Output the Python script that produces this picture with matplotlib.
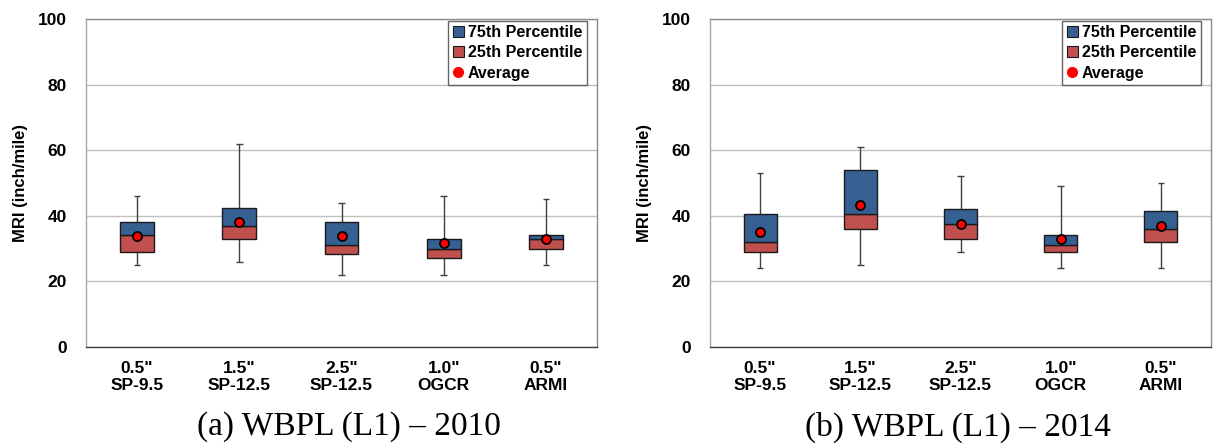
import matplotlib
matplotlib.use("Agg")
import matplotlib.pyplot as plt
from matplotlib.patches import Patch
from matplotlib.lines import Line2D

categories = ['0.5"\nSP-9.5', '1.5"\nSP-12.5', '2.5"\nSP-12.5', '1.0"\nOGCR', '0.5"\nARMI']

# Panel (a) 2010
min_2010 = [25, 26, 22, 22, 25]
q1_2010 = [29, 33, 28.3, 27, 30]
med_2010 = [34, 37, 31, 30, 33]
q3_2010 = [38, 42.5, 38, 33, 34]
max_2010 = [46, 62, 44, 46, 45]
avg_2010 = [33.8, 38.2, 33.8, 31.6, 33.0]

# Panel (b) 2014
min_2014 = [24, 25, 29, 24, 24]
q1_2014 = [29, 36, 33, 29, 32]
med_2014 = [32, 40.5, 37.5, 31, 36]
q3_2014 = [40.5, 54, 42, 34, 41.5]
max_2014 = [53, 61, 52, 49, 50]
avg_2014 = [35.0, 43.4, 37.5, 32.8, 37.0]

captions = ["(a) WBPL (L1) \u2013 2010", "(b) WBPL (L1) \u2013 2014"]
legend_labels = ["75th Percentile", "25th Percentile", "Average"]
ylabel = "MRI (inch/mile)"
yticks = [0, 20, 40, 60, 80, 100]

BLUE = "#376092"
RED = "#C0504D"
SANS = ["Liberation Sans", "DejaVu Sans"]
SERIF = ["Liberation Serif", "DejaVu Serif"]

W, H = 1214, 447
fig = plt.figure(figsize=(W / 100, H / 100), dpi=100)

panels = [
    dict(rect=[86, 19, 597, 347], data=(min_2010, q1_2010, med_2010, q3_2010, max_2010, avg_2010),
         cap_x=349),
    dict(rect=[710, 19, 1211, 347], data=(min_2014, q1_2014, med_2014, q3_2014, max_2014, avg_2014),
         cap_x=958),
]

for i, p in enumerate(panels):
    x0, y0, x1, y1 = p["rect"]
    ax = fig.add_axes([x0 / W, 1 - y1 / H, (x1 - x0) / W, (y1 - y0) / H])
    mn, q1, md, q3, mx, av = p["data"]
    xs = list(range(len(categories)))
    ax.set_xlim(-0.5, len(categories) - 0.5)
    ax.set_ylim(0, 100)
    ax.set_yticks(yticks)
    ax.yaxis.grid(True, color="#C0C0C0", linewidth=1.0)
    ax.set_axisbelow(True)

    bw = 0.33
    cw = 0.065
    # whiskers
    ax.vlines(xs, q3, mx, color="#404040", linewidth=1.0, zorder=2)
    ax.vlines(xs, mn, q1, color="#404040", linewidth=1.0, zorder=2)
    ax.hlines(mx, [x - cw / 2 for x in xs], [x + cw / 2 for x in xs], color="#404040", linewidth=1.0, zorder=2)
    ax.hlines(mn, [x - cw / 2 for x in xs], [x + cw / 2 for x in xs], color="#404040", linewidth=1.0, zorder=2)
    # boxes
    ax.bar(xs, [m - a for m, a in zip(md, q1)], bottom=q1, width=bw, color=RED,
           edgecolor="#1a1a1a", linewidth=1.0, zorder=3)
    ax.bar(xs, [b - m for b, m in zip(q3, md)], bottom=md, width=bw, color=BLUE,
           edgecolor="#1a1a1a", linewidth=1.0, zorder=3)
    ax.plot(xs, av, linestyle="none", marker="o", ms=6.5, mfc="#FF0000", mec="black",
            mew=1.3, zorder=4)

    ax.set_xticks(xs)
    ax.set_xticklabels(categories, fontsize=12.5, fontweight="bold", family=SANS, linespacing=1.2)
    ax.set_yticklabels([str(t) for t in yticks], fontsize=12.5, fontweight="bold", family=SANS)
    ax.tick_params(axis="both", length=0)
    ax.tick_params(axis="y", pad=14)
    ax.tick_params(axis="x", pad=10)

    ax.set_ylabel(ylabel, fontsize=12, fontweight="bold", family=SANS)
    ax.yaxis.set_label_coords(-(65) / (x1 - x0), 0.5)
    ax.yaxis.label.set_verticalalignment("center")

    ax.spines["left"].set_color("#A6A6A6")
    ax.spines["bottom"].set_color("#404040")
    ax.spines["top"].set_color("#8C8C8C")
    ax.spines["right"].set_color("#8C8C8C")
    for s in ax.spines.values():
        s.set_linewidth(1.0)

    handles = [
        Patch(facecolor=BLUE, edgecolor="#1a1a1a", linewidth=0.8),
        Patch(facecolor=RED, edgecolor="#1a1a1a", linewidth=0.8),
        Line2D([], [], linestyle="none", marker="o", ms=7, mfc="#FF0000", mec="#FF0000"),
    ]
    leg = ax.legend(handles, legend_labels, loc="upper right",
                    bbox_to_anchor=(1 - 10 / (x1 - x0), 1 - 1.5 / (y1 - y0)),
                    borderaxespad=0, fancybox=False, frameon=True,
                    prop=dict(family=SANS, weight="bold", size=11.5),
                    handlelength=0.7, handleheight=0.7, handletextpad=0.25,
                    labelspacing=0.32, borderpad=0.3)
    leg.get_frame().set_edgecolor("#404040")
    leg.get_frame().set_linewidth(1.0)

    fig.text(p["cap_x"] / W, 1 - 427 / H, captions[i], ha="center", va="center",
             fontsize=24, family=SERIF)

fig.savefig("out.png", dpi=100)
